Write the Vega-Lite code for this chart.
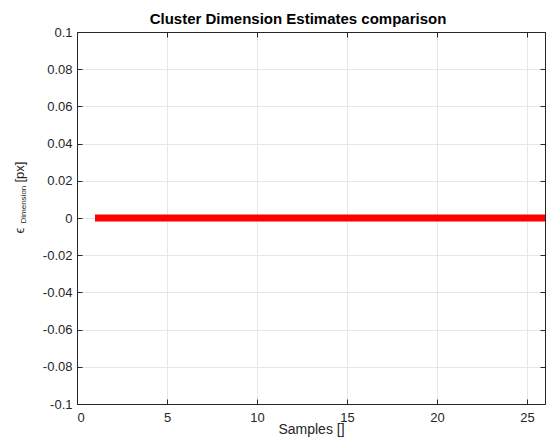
{
  "$schema": "https://vega.github.io/schema/vega-lite/v6.json",
  "autosize": "none",
  "width": 468,
  "height": 372,
  "padding": {"left": 77, "top": 32, "right": 1, "bottom": 42},
  "background": "white",
  "config": {
    "font": "Liberation Sans",
    "view": {"stroke": "#262626", "strokeWidth": 1},
    "axis": {
      "labelFont": "Liberation Sans",
      "titleFont": "Liberation Sans",
      "labelFontSize": 13,
      "titleFontSize": 13,
      "titleFontWeight": "normal",
      "labelColor": "#262626",
      "titleColor": "#262626",
      "domainColor": "#262626",
      "tickColor": "#262626",
      "gridColor": "#e6e6e6",
      "tickSize": -5
    }
  },
  "title": {
    "text": "Cluster Dimension Estimates comparison",
    "font": "Liberation Sans",
    "fontSize": 15,
    "fontWeight": "bold",
    "color": "#000000",
    "offset": -1,
    "dx": -13
  },
  "data": {
    "values": [
      {"sample": 1, "err": 0}, {"sample": 2, "err": 0}, {"sample": 3, "err": 0},
      {"sample": 4, "err": 0}, {"sample": 5, "err": 0}, {"sample": 6, "err": 0},
      {"sample": 7, "err": 0}, {"sample": 8, "err": 0}, {"sample": 9, "err": 0},
      {"sample": 10, "err": 0}, {"sample": 11, "err": 0}, {"sample": 12, "err": 0},
      {"sample": 13, "err": 0}, {"sample": 14, "err": 0}, {"sample": 15, "err": 0},
      {"sample": 16, "err": 0}, {"sample": 17, "err": 0}, {"sample": 18, "err": 0},
      {"sample": 19, "err": 0}, {"sample": 20, "err": 0}, {"sample": 21, "err": 0},
      {"sample": 22, "err": 0}, {"sample": 23, "err": 0}, {"sample": 24, "err": 0},
      {"sample": 25, "err": 0}, {"sample": 26, "err": 0}
    ]
  },
  "layer": [
    {
      "mark": {"type": "line", "color": "#ff0000", "strokeWidth": 7, "strokeCap": "butt", "clip": true},
      "encoding": {
        "x": {
          "field": "sample", "type": "quantitative",
          "scale": {"domain": [0, 26], "nice": false, "zero": false},
          "axis": {"title": "Samples []", "titleFontSize": 14, "values": [0, 5, 10, 15, 20, 25], "grid": true, "labelPadding": 12, "titleY": 29, "titleBaseline": "alphabetic"}
        },
        "y": {
          "field": "err", "type": "quantitative",
          "scale": {"domain": [-0.1, 0.1], "nice": false},
          "axis": {
            "title": "ϵ",
            "titleAngle": 270,
            "titleX": -54,
            "titleY": 201,
            "titleAlign": "left",
            "titleBaseline": "alphabetic",
            "values": [-0.1, -0.08, -0.06, -0.04, -0.02, 0, 0.02, 0.04, 0.06, 0.08, 0.1],
            "labelExpr": "'' + round(datum.value * 100) / 100",
            "labelPadding": 10,
            "grid": true
          }
        }
      }
    },
    {
      "mark": {"type": "line", "opacity": 0},
      "encoding": {
        "x": {
          "field": "sample", "type": "quantitative",
          "scale": {"domain": [0, 26], "nice": false, "zero": false},
          "axis": {"orient": "top", "values": [0, 5, 10, 15, 20, 25], "labels": false, "title": null, "grid": false}
        },
        "y": {
          "field": "err", "type": "quantitative",
          "scale": {"domain": [-0.1, 0.1], "nice": false},
          "axis": {"orient": "right", "values": [-0.1, -0.08, -0.06, -0.04, -0.02, 0, 0.02, 0.04, 0.06, 0.08, 0.1], "labels": false, "title": null, "grid": false}
        }
      }
    },
    {
      "mark": {"type": "line", "opacity": 0},
      "encoding": {
        "y": {
          "field": "err", "type": "quantitative",
          "scale": {"domain": [-0.1, 0.1], "nice": false},
          "axis": {
            "orient": "left", "labels": false, "ticks": false, "domain": false, "grid": false,
            "title": "Dimension", "titleFontSize": 8, "titleAngle": 270,
            "titleX": -51.5, "titleY": 191, "titleAlign": "left", "titleBaseline": "alphabetic"
          }
        }
      }
    },
    {
      "mark": {"type": "line", "opacity": 0},
      "encoding": {
        "y": {
          "field": "err", "type": "quantitative",
          "scale": {"domain": [-0.1, 0.1], "nice": false},
          "axis": {
            "orient": "left", "labels": false, "ticks": false, "domain": false, "grid": false,
            "title": "[px]", "titleFontSize": 13, "titleAngle": 270,
            "titleX": -54, "titleY": 150, "titleAlign": "left", "titleBaseline": "alphabetic"
          }
        }
      }
    }
  ],
  "resolve": {"axis": {"x": "independent", "y": "independent"}}
}
